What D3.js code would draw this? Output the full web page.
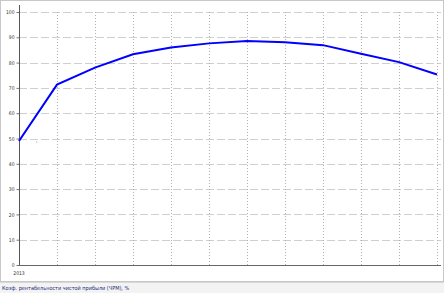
<!DOCTYPE html>
<html>
<head>
<meta charset="utf-8">
<script src="https://cdn.jsdelivr.net/npm/d3@7"></script>
<style>
  body { margin: 0; background: #fff; }
  svg { display: block; }
  .ylab, .xlab { font-family: "DejaVu Sans Condensed", "DejaVu Sans", sans-serif; font-size: 5px; fill: #333; }
  .status { font-family: "DejaVu Sans Condensed", "DejaVu Sans", sans-serif; font-size: 5.5px; fill: #1a2a7a; }
</style>
</head>
<body>
<div id="chart"></div>
<script>
// periods along the x axis (only the first is labelled)
var periods = ["2013", "", "", "", "", "", "", "", "", "", "", ""];
// net profit margin, %
var values = [49, 71.3, 78, 83.3, 86, 87.6, 88.5, 88, 86.9, 83.5, 80.2, 75.3];
var yTicks = [0, 10, 20, 30, 40, 50, 60, 70, 80, 90, 100];
var caption = "Коэф. рентабельности чистой прибыли (ЧРМ), %";

var W = 444, H = 293;
var svg = d3.select("#chart").append("svg").attr("width", W).attr("height", H);

// window frame
svg.append("rect").attr("x", 0.5).attr("y", 0.5).attr("width", W - 1).attr("height", 281)
  .attr("fill", "#fff").attr("stroke", "#c8c8c8");

var x = d3.scalePoint().domain(d3.range(values.length)).range([19, 437]);
var y = d3.scaleLinear().domain([0, 100]).range([265, 12]);

// horizontal grid
svg.append("g").selectAll("line").data(yTicks.slice(1)).enter().append("line")
  .attr("x1", 19).attr("x2", 441)
  .attr("y1", function(d) { return Math.round(y(d)) + 0.5; })
  .attr("y2", function(d) { return Math.round(y(d)) + 0.5; })
  .attr("stroke", "#cfcfcf").attr("stroke-dasharray", "8,3");

// vertical grid
svg.append("g").selectAll("line").data(d3.range(1, values.length)).enter().append("line")
  .attr("x1", function(d) { return Math.round(x(d)) + 0.5; })
  .attr("x2", function(d) { return Math.round(x(d)) + 0.5; })
  .attr("y1", 12).attr("y2", 265)
  .attr("stroke", "#b0b0b0").attr("stroke-dasharray", "1,2");

// y axis
var yAxis = d3.axisLeft(y).tickValues(yTicks).tickSize(3).tickPadding(2);
var gy = svg.append("g").attr("transform", "translate(19.5,0)").call(yAxis);
gy.select(".domain").remove();
gy.selectAll("line").attr("stroke", "#777");
gy.selectAll("text").attr("class", "ylab").attr("font-size", null).attr("font-family", null);
svg.append("line").attr("x1", 19.5).attr("x2", 19.5).attr("y1", 5).attr("y2", 266)
  .attr("stroke", "#555");

// x axis
svg.append("line").attr("x1", 19).attr("x2", 441).attr("y1", 265.5).attr("y2", 265.5)
  .attr("stroke", "#666");
svg.append("g").selectAll("text").data(periods).enter().append("text")
  .attr("class", "xlab")
  .attr("x", function(d, i) { return x(i); })
  .attr("y", 275)
  .attr("text-anchor", "middle")
  .text(function(d) { return d; });

// series line
var line = d3.line()
  .x(function(d, i) { return x(i); })
  .y(function(d) { return y(d); });
svg.append("path").datum(values).attr("d", line)
  .attr("fill", "none").attr("stroke", "#0000ff").attr("stroke-width", 2);

// stray tick mark near the start
svg.append("text").attr("class", "xlab").attr("x", x(0) + 17).attr("y", y(47.5)).text("'");

// status bar
svg.append("rect").attr("x", 0).attr("y", 282).attr("width", W).attr("height", 11)
  .attr("fill", "#f3f3f3");
svg.append("line").attr("x1", 0).attr("x2", W).attr("y1", 282.5).attr("y2", 282.5)
  .attr("stroke", "#d8d8d8");
svg.append("text").attr("class", "status").attr("x", 2).attr("y", 290).text(caption);
</script>
</body>
</html>
